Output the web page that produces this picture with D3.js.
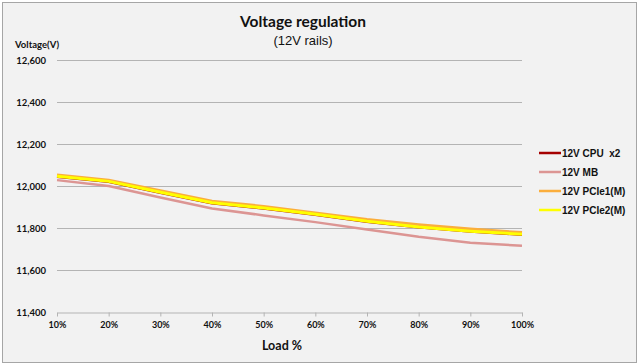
<!DOCTYPE html>
<html><head><meta charset="utf-8">
<script src="https://cdn.jsdelivr.net/npm/d3@7/dist/d3.min.js"></script>
<style>body{margin:0;background:#fff}svg{display:block}</style>
</head><body>
<svg id="c" width="640" height="364"></svg>
<script>
const categories = ["10%","20%","30%","40%","50%","60%","70%","80%","90%","100%"];
const cpu   = [12044,12020,11968,11918,11893,11863,11830,11803,11783,11768];
const mb    = [12028,12000,11945,11893,11860,11828,11793,11758,11730,11715];
const pcie1 = [12052,12027,11978,11928,11903,11872,11840,11815,11795,11778];
const pcie2 = [12046,12022,11970,11920,11895,11865,11832,11805,11785,11770];
const seriesNames = ["12V CPU  x2","12V MB","12V PCIe1(M)","12V PCIe2(M)"];
const yTicks = [11400,11600,11800,12000,12200,12400,12600];

const series = [
  {name: seriesNames[0], values: cpu,   color: "#a50000", w: 2.5},
  {name: seriesNames[1], values: mb,    color: "#dc9593", w: 2.5},
  {name: seriesNames[2], values: pcie1, color: "#fbae3c", w: 3},
  {name: seriesNames[3], values: pcie2, color: "#ffff00", w: 3}
];

const svg = d3.select("#c");
svg.append("rect").attr("x",2.5).attr("y",2.5).attr("width",634).attr("height",360)
  .attr("fill","#f2f2f2").attr("stroke","#a6a6a6");

const x = d3.scalePoint().domain(categories).range([57,522]);
const y = d3.scaleLinear().domain([11400,12600]).range([312,60]);

svg.append("g").selectAll("line").data(yTicks.filter(d=>d!==11400)).join("line")
  .attr("x1",57).attr("x2",522).attr("y1",d=>y(d)+0.5).attr("y2",d=>y(d)+0.5)
  .attr("stroke","#b4b4b4").attr("stroke-width",1);

svg.append("g").selectAll("text").data(yTicks).join("text")
  .attr("x",46).attr("y",d=>y(d)+3.5).attr("text-anchor","end")
  .attr("font-family","Lato").attr("font-weight","bold").attr("font-size",9.5)
  .attr("fill","#111").text(d=>d3.format(",")(d));

const xAxis = d3.axisBottom(x).tickSize(4).tickSizeOuter(0).tickPadding(5);
const gx = svg.append("g").attr("transform","translate(0,312.5)").call(xAxis);
gx.select(".domain").attr("stroke","#b4b4b4");
gx.selectAll(".tick line").attr("stroke","#b4b4b4");
gx.selectAll(".tick text").attr("font-family","Lato").attr("font-weight","bold")
  .attr("font-size",9).attr("fill","#111");

const line = d3.line().x((d,i)=>x(categories[i])).y(d=>y(d));
svg.append("g").selectAll("path").data(series).join("path")
  .attr("d",d=>line(d.values)).attr("fill","none")
  .attr("stroke",d=>d.color).attr("stroke-width",d=>d.w)
  .attr("stroke-linejoin","round");

svg.append("text").attr("x",303).attr("y",27).attr("text-anchor","middle")
  .attr("font-family","Lato").attr("font-weight","bold").attr("font-size",15.5)
  .attr("fill","#111").text("Voltage regulation");
svg.append("text").attr("x",303).attr("y",45).attr("text-anchor","middle")
  .attr("font-family","Liberation Sans").attr("font-size",13)
  .attr("fill","#111").text("(12V rails)");
svg.append("text").attr("x",15).attr("y",48)
  .attr("font-family","Lato").attr("font-weight","bold").attr("font-size",9.5)
  .attr("fill","#111").text("Voltage(V)");
svg.append("text").attr("x",282).attr("y",350).attr("text-anchor","middle")
  .attr("font-family","Lato").attr("font-weight","bold").attr("font-size",12.5)
  .attr("fill","#111").text("Load %");

const lg = svg.append("g").selectAll("g").data(series).join("g")
  .attr("transform",(d,i)=>`translate(539,${153+i*19})`);
lg.append("line").attr("x1",0).attr("x2",22).attr("y1",0).attr("y2",0)
  .attr("stroke",d=>d.color).attr("stroke-width",2.5);
lg.append("text").attr("x",23).attr("y",3.5).attr("xml:space","preserve")
  .style("white-space","pre")
  .attr("font-family","Liberation Sans").attr("font-weight","bold").attr("font-size",10)
  .attr("fill","#111").text(d=>d.name);
</script>
</body></html>
